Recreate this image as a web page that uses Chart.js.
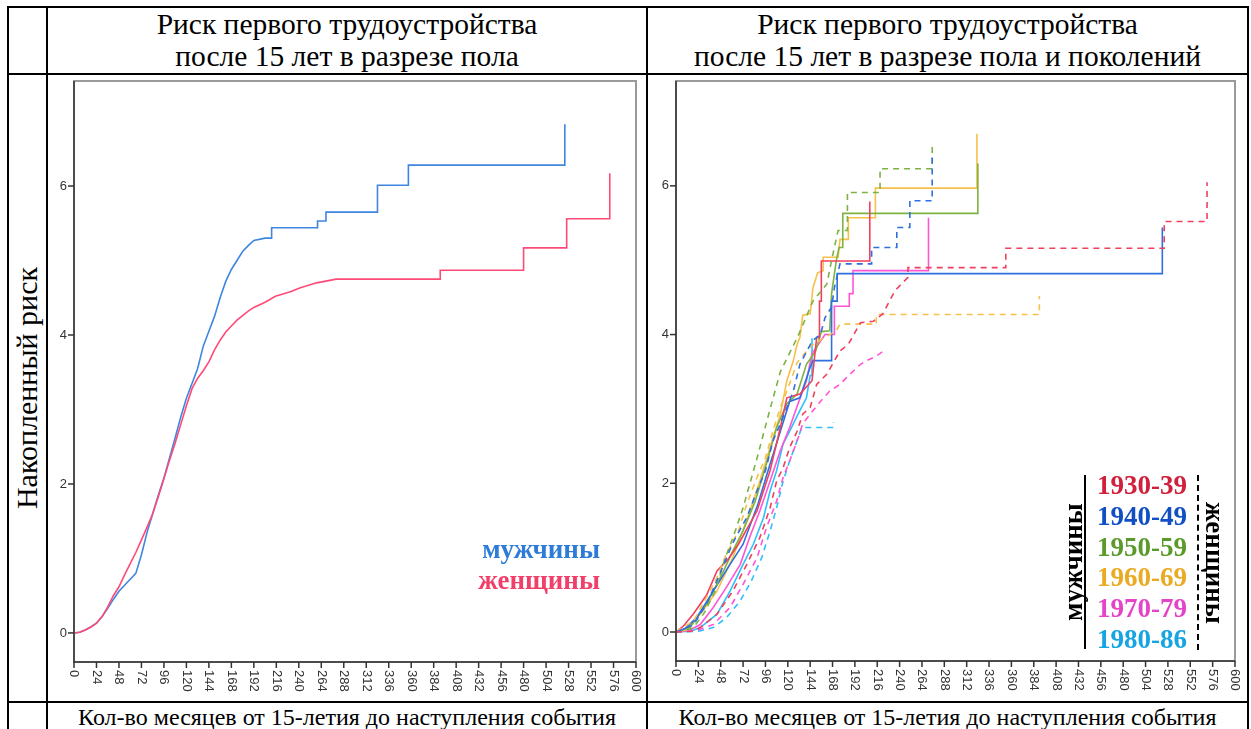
<!DOCTYPE html>
<html>
<head>
<meta charset="utf-8">
<script src="https://cdn.jsdelivr.net/npm/chart.js@4.4.1/dist/chart.umd.min.js"></script>
<style>
body { margin: 0; background: #fff; width: 1251px; height: 729px; overflow: hidden; position: relative;
       font-family: "Liberation Serif", "Times New Roman", serif; color: #000; }
.ln { position: absolute; background: #000; }
.txt { position: absolute; text-align: center; white-space: nowrap; }
canvas { position: absolute; }
.yr { position: absolute; left: 1097px; font-weight: bold; font-size: 27px; line-height: 30px; }
</style>
</head>
<body>

<!-- table lines -->
<div class="ln" style="left:7px;top:6px;width:1242px;height:2px"></div>
<div class="ln" style="left:7px;top:73px;width:1242px;height:2px"></div>
<div class="ln" style="left:7px;top:701px;width:1242px;height:2px"></div>
<div class="ln" style="left:7px;top:6px;width:2px;height:723px"></div>
<div class="ln" style="left:46px;top:6px;width:2px;height:723px"></div>
<div class="ln" style="left:646px;top:6px;width:2px;height:723px"></div>
<div class="ln" style="left:1247px;top:6px;width:2px;height:723px"></div>

<!-- titles -->
<div class="txt" style="left:48px;top:8px;width:598px;font-size:29.5px;line-height:32px">Риск первого трудоустройства<br>после 15 лет в разрезе пола</div>
<div class="txt" style="left:648px;top:8px;width:599px;font-size:29.5px;line-height:32px">Риск первого трудоустройства<br>после 15 лет в разрезе пола и поколений</div>

<!-- y title -->
<div class="txt" style="left:27px;top:388px;font-size:30px;line-height:32px;transform:translate(-50%,-50%) rotate(-90deg)">Накопленный риск</div>

<!-- x titles -->
<div class="txt" style="left:48px;top:703px;width:598px;font-size:24px;line-height:28px">Кол-во месяцев от 15-летия до наступления события</div>
<div class="txt" style="left:648px;top:703px;width:599px;font-size:24px;line-height:28px">Кол-во месяцев от 15-летия до наступления события</div>

<canvas id="left-chart" width="600" height="627" style="left:47px;top:75px"></canvas>
<canvas id="right-chart" width="600" height="627" style="left:647px;top:75px"></canvas>

<!-- left legend -->
<div class="txt" style="right:651px;top:534px;font-size:27px;line-height:30px;font-weight:bold;color:#2f7bd8;text-align:right">мужчины</div>
<div class="txt" style="right:651px;top:565px;font-size:27px;line-height:30px;font-weight:bold;color:#f0406a;text-align:right">женщины</div>

<!-- right legend -->
<div class="ln" style="left:1084px;top:475px;width:2px;height:174px"></div>
<div style="position:absolute;left:1197px;top:475px;width:0;height:175px;border-left:2px dashed #000"></div>
<div class="txt" style="left:1073px;top:562px;font-size:27px;line-height:28px;font-weight:bold;transform:translate(-50%,-50%) rotate(-90deg)">мужчины</div>
<div class="txt" style="left:1215px;top:563px;font-size:27px;line-height:28px;font-weight:bold;transform:translate(-50%,-50%) rotate(90deg)">женщины</div>
<div id="years"></div>

<script>
// months since 15th birthday / cumulative hazard
const xTicks = [0, 24, 48, 72, 96, 120, 144, 168, 192, 216, 240, 264, 288, 312, 336, 360,
                384, 408, 432, 456, 480, 504, 528, 552, 576, 600];
const yTicks = [0, 2, 4, 6];

// left panel: by sex (corners of the steps written out)
const leftMen = [[0,0],[6,0.01],[12,0.04],[18,0.08],[24,0.13],[30,0.22],[36,0.33],[42,0.45],[48,0.56],
  [54,0.64],[60,0.72],[66,0.8],[72,1.05],[78,1.35],[84,1.6],[90,1.85],[96,2.08],[102,2.35],[108,2.62],
  [114,2.9],[120,3.15],[126,3.35],[132,3.55],[138,3.85],[144,4.05],[150,4.25],[156,4.5],[162,4.72],
  [168,4.88],[174,5.0],[180,5.12],[186,5.2],[192,5.27],[204,5.3],[211,5.3],[211,5.44],[260,5.44],
  [260,5.53],[269,5.53],[269,5.65],[324,5.65],[324,6.01],[357,6.01],[357,6.28],[524,6.28],[524,6.83]];
const leftWomen = [[0,0],[6,0.01],[12,0.04],[18,0.08],[24,0.13],[30,0.22],[36,0.35],[42,0.5],[48,0.62],
  [54,0.78],[60,0.93],[66,1.08],[72,1.25],[78,1.42],[84,1.6],[90,1.83],[96,2.07],[102,2.32],[108,2.55],
  [114,2.8],[120,3.05],[126,3.28],[132,3.42],[138,3.52],[144,3.64],[150,3.8],[156,3.93],[162,4.04],
  [168,4.12],[174,4.2],[180,4.26],[186,4.32],[192,4.37],[204,4.44],[215,4.52],[231,4.58],[241,4.63],
  [259,4.7],[280,4.75],[391,4.75],[391,4.87],[480,4.87],[480,5.17],[526,5.17],[526,5.56],[572,5.56],
  [572,6.17]];

// right panel: by sex and birth cohort (men solid, women dashed)
const cohorts = ['1930-39', '1940-49', '1950-59', '1960-69', '1970-79', '1980-86'];
const men1930 = [[0,0],[8,0.08],[19,0.25],[33,0.5],[44,0.82],[56,0.98],[67,1.18],[87,1.63],[101,2.17],
  [112,2.75],[119,3.15],[133,3.2],[146,3.38],[151,3.96],[154,3.96],[154,4.45],[156,4.45],[156,4.99],
  [208,4.99],[208,5.79]];
const men1940 = [[0,0],[10,0.05],[22,0.19],[40,0.55],[58,0.91],[72,1.18],[88,1.72],[101,2.26],[112,2.7],
  [122,3.1],[133,3.15],[144,3.56],[147,3.65],[167,3.65],[167,4.45],[173,4.45],[173,4.82],[522,4.82],
  [522,5.44]];
const men1950 = [[0,0],[15,0.06],[33,0.38],[51,0.82],[61,1.09],[72,1.36],[85,1.76],[97,2.26],[108,2.75],
  [119,3.07],[130,3.2],[140,3.6],[150,3.78],[156,4.04],[165,4.05],[167,4.55],[172,4.99],[175,5.17],
  [179,5.17],[179,5.63],[324,5.63],[324,6.3]];
const men1960 = [[0,0],[12,0.03],[26,0.24],[44,0.55],[61,1.0],[77,1.54],[90,2.03],[101,2.48],[112,2.93],
  [119,3.38],[126,3.65],[130,3.87],[133,3.96],[136,4.26],[144,4.28],[147,4.63],[152,4.83],[158,4.86],
  [158,5.04],[174,5.04],[176,5.28],[185,5.28],[185,5.57],[214,5.57],[214,5.97],[323,5.97],[323,6.7]];
const men1970 = [[0,0],[14,0.02],[26,0.1],[40,0.33],[54,0.6],[69,0.91],[79,1.27],[90,1.63],[101,2.03],
  [112,2.44],[122,2.75],[131,3.07],[140,3.38],[146,3.74],[155,3.91],[160,4.0],[170,4.0],[170,4.38],
  [186,4.38],[186,4.55],[190,4.55],[190,4.86],[271,4.86],[271,5.57]];
const men1980 = [[0,0],[16,0.01],[26,0.06],[44,0.24],[58,0.55],[72,0.91],[83,1.18],[94,1.54],[101,1.9],
  [108,2.17],[115,2.53],[122,2.7],[131,2.93],[140,3.15],[144,3.45],[146,3.45],[146,3.95]];
const women1930 = [[0,0],[16,0.01],[26,0.06],[44,0.24],[61,0.55],[76,0.91],[90,1.27],[101,1.67],[108,2.03],
  [115,2.21],[122,2.48],[130,2.7],[136,2.93],[144,3.02],[151,3.33],[162,3.47],[176,3.78],[185,3.87],
  [198,4.16],[212,4.18],[222,4.28],[235,4.59],[249,4.77],[249,4.9],[354,4.9],[354,5.16],[524,5.16],
  [524,5.52],[570,5.52],[570,6.05]];
const women1940 = [[0,0],[19,0.1],[33,0.38],[47,0.78],[61,1.2],[76,1.54],[87,1.9],[96,2.17],[104,2.57],
  [112,2.8],[119,3.02],[126,3.24],[133,3.6],[146,3.91],[155,4.0],[160,4.23],[167,4.37],[170,4.63],
  [176,4.95],[210,4.95],[210,5.17],[237,5.17],[237,5.44],[251,5.44],[251,5.8],[275,5.8],[275,6.38]];
const women1950 = [[0,0],[18,0.05],[30,0.25],[42,0.55],[53,1.0],[62,1.3],[72,1.67],[87,2.34],[101,3.0],
  [112,3.5],[131,3.98],[147,4.45],[162,4.68],[167,5.0],[174,5.4],[184,5.4],[184,5.91],[219,5.91],
  [219,6.23],[275,6.23],[275,6.58]];
const women1960 = [[0,0],[19,0.15],[29,0.38],[44,0.73],[54,1.05],[67,1.36],[76,1.72],[87,2.08],[96,2.34],
  [104,2.7],[112,3.02],[119,3.24],[130,3.62],[145,3.85],[165,4.0],[172,4.05],[176,4.14],[215,4.14],
  [215,4.27],[390,4.27],[390,4.52]];
const women1970 = [[0,0],[22,0.02],[40,0.1],[58,0.33],[72,0.64],[87,1.0],[97,1.4],[108,1.76],[115,2.08],
  [122,2.3],[130,2.57],[136,2.8],[144,2.93],[155,3.1],[165,3.24],[176,3.33],[187,3.47],[198,3.6],
  [205,3.65],[215,3.71],[223,3.78]];
const women1980 = [[0,0],[24,0.01],[40,0.06],[54,0.19],[69,0.42],[81,0.69],[92,1.0],[101,1.36],[108,1.67],
  [115,2.03],[122,2.3],[131,2.61],[135,2.75],[169,2.75],[169,2.82]];

const lineColors = ['#f0405e', '#2f6fe0', '#7cb342', '#f7c04a', '#ff55d5', '#2ec0fa'];
const textColors = ['#d0203c', '#1150c4', '#5b9a2a', '#eaaa22', '#e444c8', '#16a4e2'];

// cohort labels in the legend
const yearsBox = document.getElementById('years');
cohorts.forEach((c, i) => {
    const d = document.createElement('div');
    d.className = 'yr';
    d.style.top = (470 + i * 30.8) + 'px';
    d.style.color = textColors[i];
    d.textContent = c;
    yearsBox.appendChild(d);
});

function makeSet(points, color, dashed) {
    return {
        data: points.map(p => ({ x: p[0], y: p[1] })),
        borderColor: color,
        borderWidth: 1.6,
        borderDash: dashed ? [6, 5] : [],
        pointRadius: 0,
        tension: 0,
        fill: false
    };
}

// SPSS-like frame with ticks: labels on x read top to bottom
const axesPlugin = {
    id: 'spssAxes',
    afterDatasetsDraw(chart) {
        const { ctx, chartArea: a, scales: { x, y } } = chart;
        ctx.save();
        ctx.strokeStyle = '#9a9a9a';
        ctx.lineWidth = 2;
        ctx.strokeRect(a.left, a.top, a.right - a.left, a.bottom - a.top);

        ctx.strokeStyle = '#333';
        ctx.lineWidth = 1.5;
        ctx.beginPath();
        ctx.moveTo(a.left, a.top);
        ctx.lineTo(a.left, a.bottom);
        ctx.lineTo(a.right, a.bottom);
        ctx.stroke();

        ctx.fillStyle = '#333';
        ctx.font = '13px "Liberation Sans", Arial, sans-serif';
        ctx.textAlign = 'right';
        ctx.textBaseline = 'middle';
        yTicks.forEach(v => {
            const py = y.getPixelForValue(v);
            ctx.beginPath();
            ctx.moveTo(a.left - 6, py);
            ctx.lineTo(a.left, py);
            ctx.stroke();
            ctx.fillText(String(v), a.left - 7, py);
        });

        xTicks.forEach(m => {
            const px = x.getPixelForValue(m);
            ctx.beginPath();
            ctx.moveTo(px, a.bottom);
            ctx.lineTo(px, a.bottom + 6);
            ctx.stroke();
            ctx.save();
            ctx.translate(px, a.bottom + 8);
            ctx.rotate(Math.PI / 2);
            ctx.textAlign = 'left';
            ctx.fillText(String(m), 0, 0);
            ctx.restore();
        });
        ctx.restore();
    }
};

function baseOptions(pad) {
    return {
        responsive: false,
        animation: false,
        layout: { padding: pad },
        plugins: { legend: { display: false }, tooltip: { enabled: false } },
        scales: {
            x: { type: 'linear', min: 0, max: 600, display: false },
            y: { type: 'linear', min: -0.39, max: 7.41, display: false }
        }
    };
}

new Chart(document.getElementById('left-chart'), {
    type: 'line',
    data: { datasets: [makeSet(leftWomen, '#ff4a78', false), makeSet(leftMen, '#3f86df', false)] },
    options: baseOptions({ left: 27, right: 11, top: 6, bottom: 40 }),
    plugins: [axesPlugin]
});

const menSets = [men1930, men1940, men1950, men1960, men1970, men1980];
const womenSets = [women1930, women1940, women1950, women1960, women1970, women1980];
const rightSets = [];
womenSets.forEach((s, i) => rightSets.push(makeSet(s, lineColors[i], true)));
menSets.forEach((s, i) => rightSets.push(makeSet(s, lineColors[i], false)));

new Chart(document.getElementById('right-chart'), {
    type: 'line',
    data: { datasets: rightSets },
    options: baseOptions({ left: 29, right: 12, top: 6, bottom: 41 }),
    plugins: [axesPlugin]
});
</script>
</body>
</html>
